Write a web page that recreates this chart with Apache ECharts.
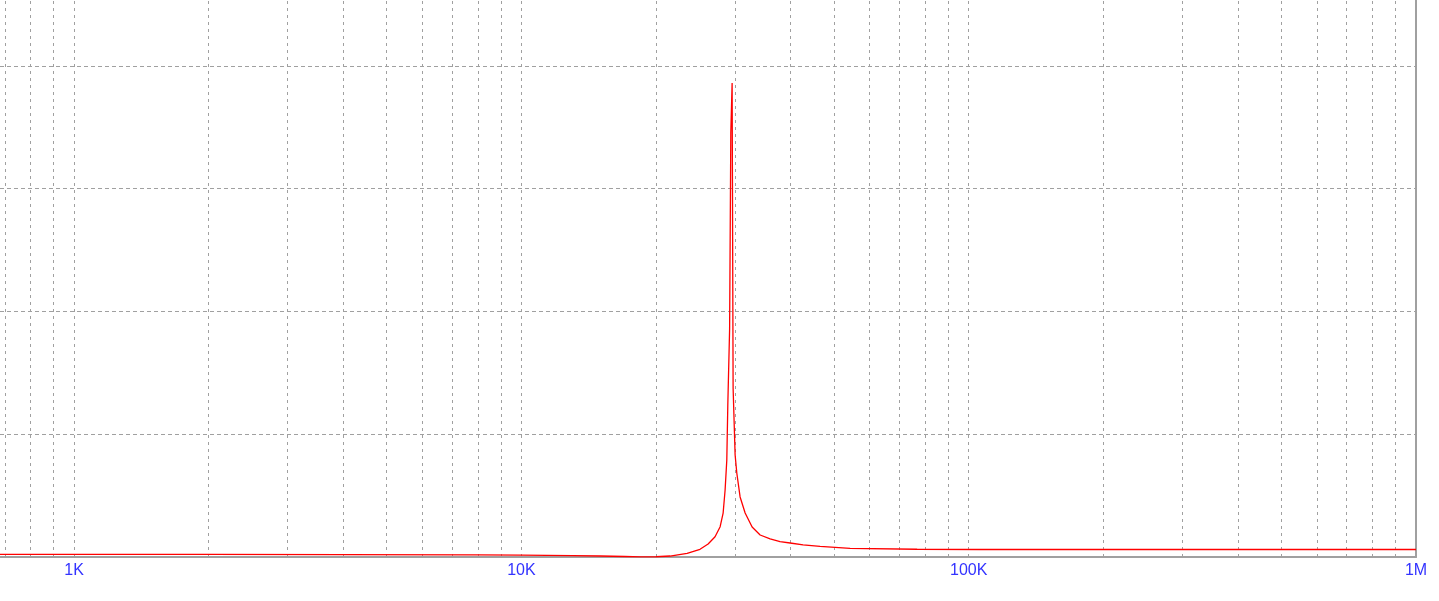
<!DOCTYPE html>
<html>
<head>
<meta charset="utf-8">
<script src="https://cdn.jsdelivr.net/npm/echarts@6/dist/echarts.min.js"></script>
<style>
html,body{margin:0;padding:0;background:#fff;}
#chart{width:1439px;height:601px;}
</style>
</head>
<body>
<div id="chart"></div>
<script>
// Frequencies (Hz) and response values (grid divisions)
var freqs = [683, 1000, 2000, 4000, 8000, 10000, 13000, 15000, 17000, 18500, 20000, 21500, 23470, 25080, 26150, 27100, 27820, 28250, 28540, 28790, 28940, 29210, 29390, 29590, 29740, 30050, 30310, 30830, 31640, 32800, 34180, 35980, 37870, 39880, 42640, 46540, 54310, 76680, 106000, 200000, 1000000];
var values = [0.022, 0.022, 0.021, 0.020, 0.017, 0.015, 0.011, 0.008, 0.004, 0.001, 0.002, 0.008, 0.030, 0.063, 0.106, 0.165, 0.247, 0.358, 0.546, 0.79, 1.238, 1.857, 3.453, 3.860, 1.376, 0.831, 0.684, 0.489, 0.358, 0.244, 0.179, 0.147, 0.125, 0.114, 0.098, 0.086, 0.071, 0.063, 0.061, 0.061, 0.061];
// Frequency axis labels
var tickLabels = {1000: '1K', 10000: '10K', 100000: '100K', 1000000: '1M'};
// Vertical grid lines: n x 10^k
var gridMultipliers = [1, 2, 3, 4, 5, 6, 7, 8, 9];
var gridDecades = [100, 1000, 10000, 100000];
var xMin = 683, xMax = 1000000;
var yMin = 0, yMax = 4.536, yInterval = 1;

var seriesData = freqs.map(function (f, i) { return [f, values[i]]; });
var vLines = [];
gridDecades.forEach(function (d) {
  gridMultipliers.forEach(function (m) {
    var f = m * d;
    if (f > xMin && f < xMax) vLines.push({ xAxis: f });
  });
});

var chart = echarts.init(document.getElementById('chart'), null, { renderer: 'canvas' });
chart.setOption({
  backgroundColor: '#ffffff',
  animation: false,
  grid: { left: 0, right: 23, top: 0, bottom: 44, containLabel: false, outerBoundsMode: 'none' },
  xAxis: {
    type: 'log',
    logBase: 10,
    min: xMin,
    max: xMax,
    axisLine: { show: true, onZero: true, lineStyle: { color: '#a0a0a0', width: 2 } },
    axisTick: { show: false },
    splitLine: { show: false },
    axisLabel: {
      show: true,
      color: '#3333ff',
      fontFamily: 'Liberation Sans, Arial, sans-serif',
      fontSize: 16,
      margin: 6,
      hideOverlap: false,
      formatter: function (v) {
        var r = Math.round(v);
        return tickLabels[r] !== undefined && Math.abs(v - r) < 1e-6 * r ? tickLabels[r] : '';
      }
    }
  },
  yAxis: {
    type: 'value',
    position: 'right',
    min: yMin,
    max: yMax,
    interval: yInterval,
    axisLine: { show: true, lineStyle: { color: '#a0a0a0', width: 2 } },
    axisTick: { show: false },
    axisLabel: { show: false },
    splitLine: { show: true, showMaxLine: false, lineStyle: { color: '#a0a0a0', width: 1, type: [4, 3] } }
  },
  series: [{
    type: 'line',
    data: seriesData,
    showSymbol: false,
    symbol: 'none',
    sampling: 'none',
    lineStyle: { color: '#ff0000', width: 1.3 },
    itemStyle: { color: '#ff0000' },
    z: 3,
    markLine: {
      silent: true,
      symbol: ['none', 'none'],
      animation: false,
      z: 1,
      label: { show: false },
      lineStyle: { color: '#a0a0a0', width: 1, type: [3, 4] },
      emphasis: { disabled: true },
      data: vLines
    }
  }]
});
</script>
</body>
</html>
